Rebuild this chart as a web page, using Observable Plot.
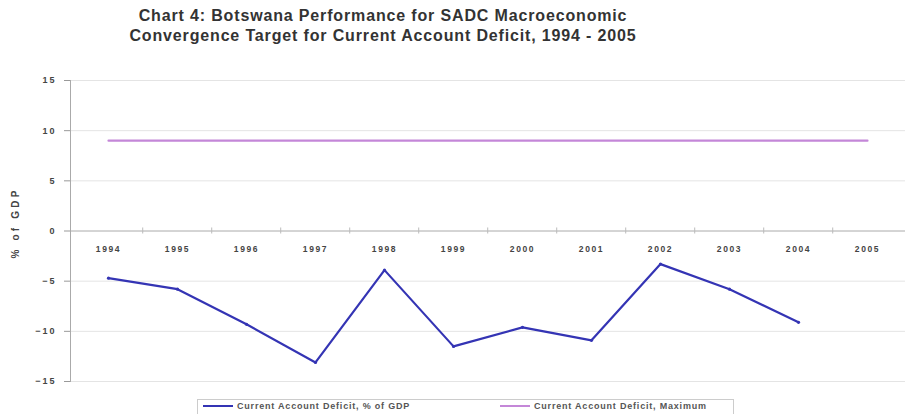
<!DOCTYPE html>
<html>
<head>
<meta charset="utf-8">
<script src="https://cdn.jsdelivr.net/npm/d3@7"></script>
<script src="https://cdn.jsdelivr.net/npm/@observablehq/plot@0.6"></script>
<style>
  html, body { margin: 0; padding: 0; background: #fff; }
  body { width: 915px; height: 414px; position: relative; overflow: hidden; font-family: "Liberation Sans", Arial, sans-serif; }
  #title { position: absolute; top: 6px; left: 0; width: 766px; text-align: center; font-weight: bold; font-size: 16px; line-height: 20px; letter-spacing: 0.85px; color: #333; }
  #title span { white-space: nowrap; }
  #chart { position: absolute; top: 60px; left: 0; }
  #ylabel { position: absolute; left: 15px; top: 223px; transform: translate(-50%, -50%) rotate(-90deg); font-size: 10px; font-weight: bold; letter-spacing: 3.2px; color: #444; white-space: nowrap; }
  #legend { position: absolute; left: 197px; top: 399px; width: 537px; height: 20px; border: 1px solid #ccc; box-sizing: border-box; font-size: 9px; font-weight: bold; letter-spacing: 0.8px; color: #555; }
  .item { position: absolute; top: 0px; height: 12px; display: flex; align-items: center; white-space: nowrap; }
  .sw { display: inline-block; width: 30px; height: 2px; margin-right: 4px; }
  .ytl text { letter-spacing: 2px; }
  .xtl text { letter-spacing: 1.6px; }
</style>
</head>
<body>
<div id="title"><span>Chart 4: Botswana Performance for SADC Macroeconomic</span><br><span>Convergence Target for Current Account Deficit, 1994 - 2005</span></div>
<div id="chart"></div>
<div id="ylabel"></div>
<div id="legend">
  <div class="item" style="left:5px"><span class="sw" id="sw1"></span><span id="lg1"></span></div>
  <div class="item" style="left:302px"><span class="sw" id="sw2"></span><span id="lg2"></span></div>
</div>
<script>
const years = ["1994","1995","1996","1997","1998","1999","2000","2001","2002","2003","2004","2005"];
const deficitYears = ["1994","1995","1996","1997","1998","1999","2000","2001","2002","2003","2004"];
const deficitValues = [-4.7, -5.8, -9.3, -13.1, -3.9, -11.5, -9.6, -10.9, -3.3, -5.8, -9.1];
const maximumValues = [9, 9, 9, 9, 9, 9, 9, 9, 9, 9, 9, 9];
const yTicks = [-15, -10, -5, 0, 5, 10, 15];
const yAxisLabel = "% of GDP";
const seriesNames = ["Current Account Deficit, % of GDP", "Current Account Deficit, Maximum"];
const seriesColors = ["#3434b4", "#c487d8"];

const deficit = deficitYears.map((y, i) => ({year: y, value: deficitValues[i]}));
const maximum = years.map((y, i) => ({year: y, value: maximumValues[i]}));

const W = 915, mL = 70, mR = 10;
const step = (W - mL - mR) / years.length;

const chart = Plot.plot({
  width: W,
  height: 335,
  marginTop: 20,
  marginBottom: 14,
  marginLeft: mL,
  marginRight: mR,
  style: {fontFamily: "Liberation Sans, Arial, sans-serif", background: "transparent"},
  x: {type: "point", domain: years, padding: 0.5, axis: null},
  y: {domain: [-15, 15]},
  marks: [
    Plot.ruleY(yTicks.filter(d => d !== 0), {stroke: "#e4e4e4", strokeWidth: 1}),
    Plot.axisY({ticks: yTicks, tickSize: 6, tickPadding: 8, fontSize: 9, fontWeight: "bold", fill: "#444", stroke: "#999", label: null, className: "ytl"}),
    Plot.frame({anchor: "left", stroke: "#aaa"}),
    Plot.ruleY([0], {stroke: "#aaa", strokeWidth: 1}),
    Plot.ruleX(years.slice(1), {x: d => d, y1: 0.3, y2: -0.3, dx: -step / 2, stroke: "#bbb"}),
    Plot.text(years, {x: d => d, y: 0, dy: 18, text: d => d, fontSize: 8.5, fontWeight: "bold", fill: "#444", className: "xtl"}),
    Plot.line(maximum, {x: "year", y: "value", stroke: seriesColors[1], strokeWidth: 2.2}),
    Plot.line(deficit, {x: "year", y: "value", stroke: seriesColors[0], strokeWidth: 2.2}),
    Plot.dot(deficit, {x: "year", y: "value", r: 1.6, fill: seriesColors[0], stroke: "none"})
  ]
});
// letter spacing for tick labels (robust fallback)
chart.querySelectorAll('g[aria-label="y-axis tick label"] text').forEach(t => t.style.letterSpacing = "2px");
chart.querySelectorAll('g[aria-label="text"] text').forEach(t => t.style.letterSpacing = "1.6px");
document.getElementById("chart").appendChild(chart);
document.getElementById("ylabel").textContent = yAxisLabel;
document.getElementById("lg1").textContent = seriesNames[0];
document.getElementById("lg2").textContent = seriesNames[1];
document.getElementById("sw1").style.background = seriesColors[0];
document.getElementById("sw2").style.background = seriesColors[1];
</script>
</body>
</html>
